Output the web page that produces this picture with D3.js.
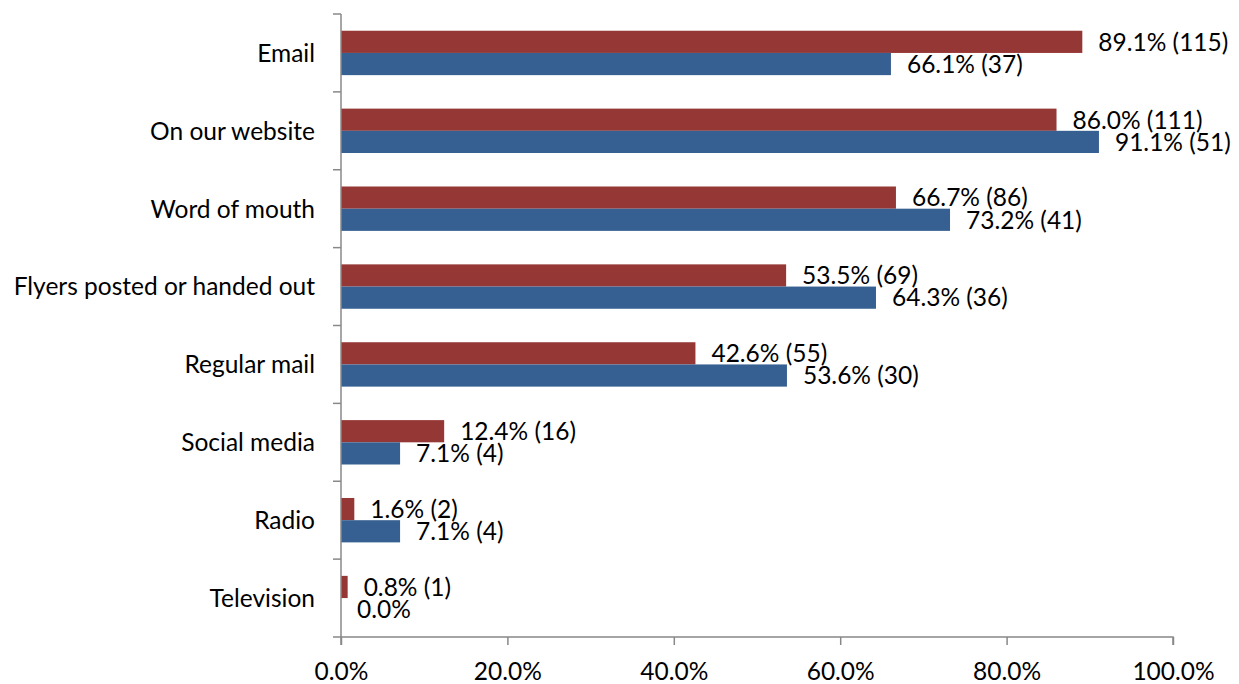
<!DOCTYPE html>
<html><head><meta charset="utf-8">
<script src="https://cdn.jsdelivr.net/npm/d3@7"></script>
<style>body{margin:0;background:#fff}svg{display:block}text{font-family:Lato,"Open Sans",sans-serif;fill:#000}</style>
</head><body>
<svg id="c" width="1239" height="684"></svg>
<script>
const categories = ["Email","On our website","Word of mouth","Flyers posted or handed out","Regular mail","Social media","Radio","Television"];
const seriesRed = [89.1,86.0,66.7,53.5,42.6,12.4,1.6,0.8];
const seriesRedCounts = [115,111,86,69,55,16,2,1];
const seriesBlue = [66.1,91.1,73.2,64.3,53.6,7.1,7.1,0.0];
const seriesBlueCounts = [37,51,41,36,30,4,4,null];
const xTicks = [0,20,40,60,80,100];

const FS = 24.5;
const svg = d3.select("#c");
const mLeft = 341, mRight = 1173, mTop = 14, mBottom = 637;
const x = d3.scaleLinear().domain([0,100]).range([mLeft,mRight]);
const y = d3.scaleBand().domain(categories).range([mTop,mBottom]).paddingInner(0.43).paddingOuter(0.215);
const sub = d3.scaleBand().domain(["red","blue"]).range([0,y.bandwidth()]);
const colors = {red:"#953735", blue:"#376092"};
const fmt = (v,c) => v.toFixed(1)+"%" + (c==null ? "" : " ("+c+")");

const rows = categories.map((c,i)=>({c, red:seriesRed[i], rc:seriesRedCounts[i], blue:seriesBlue[i], bc:seriesBlueCounts[i]}));

const g = svg.append("g");
["red","blue"].forEach(s=>{
  g.selectAll("rect."+s).data(rows).enter().append("rect")
    .attr("x", x(0)).attr("y", d=>y(d.c)+sub(s))
    .attr("width", d=>x(d[s])-x(0)).attr("height", sub.bandwidth())
    .attr("fill", colors[s]);
  g.selectAll("text."+s).data(rows).enter().append("text")
    .attr("x", d=>x(d[s])+16).attr("y", d=>y(d.c)+sub(s)+sub.bandwidth()/2)
    .attr("dy","0.36em").attr("font-size",FS)
    .text(d=>fmt(d[s], s==="red"?d.rc:d.bc));
});

// x axis
const xa = svg.append("g").attr("transform",`translate(0,${mBottom})`)
  .call(d3.axisBottom(x).tickValues(xTicks).tickSize(8).tickPadding(18).tickFormat(d=>d.toFixed(1)+"%"));
xa.select(".domain").attr("stroke","#888").attr("stroke-width",1.5).attr("d",`M${mLeft},8V0H${mRight}V8`);
xa.selectAll(".tick line").attr("stroke","#888").attr("stroke-width",1.5);
xa.selectAll("text").attr("font-size",FS).attr("font-family","Lato, 'Open Sans', sans-serif").attr("fill","#000");

// y axis with boundary ticks
const ya = svg.append("g");
ya.append("line").attr("x1",mLeft).attr("x2",mLeft).attr("y1",mTop).attr("y2",mBottom).attr("stroke","#888").attr("stroke-width",1.5);
const bounds = categories.map(c=>y(c)-y.step()*y.paddingInner()/2).concat([mBottom]);
ya.selectAll("line.t").data(bounds).enter().append("line")
  .attr("x1",mLeft-8).attr("x2",mLeft).attr("y1",d=>d).attr("y2",d=>d).attr("stroke","#888").attr("stroke-width",1.5);
ya.selectAll("text").data(categories).enter().append("text")
  .attr("x",mLeft-26).attr("y",c=>y(c)+y.bandwidth()/2).attr("dy","0.36em")
  .attr("text-anchor","end").attr("font-size",FS).text(c=>c);
</script>
</body></html>
